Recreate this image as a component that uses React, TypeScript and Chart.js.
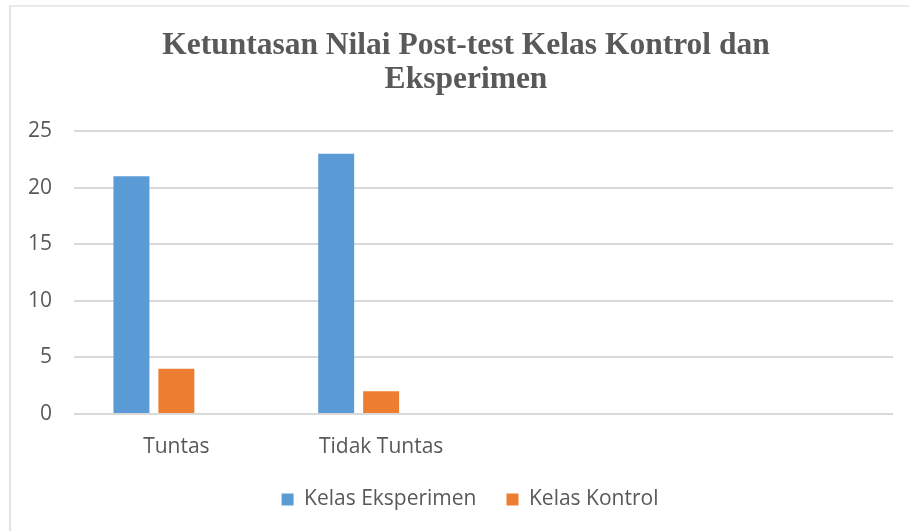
import React, { useEffect, useRef } from "react";
import { Chart, registerables } from "chart.js";

Chart.register(...registerables);

const chartTitle = ["Ketuntasan Nilai Post-test Kelas Kontrol dan", "Eksperimen"];
const categories = ["Tuntas", "Tidak Tuntas", "", ""];
const seriesNames = ["Kelas Eksperimen", "Kelas Kontrol", ""];
const kelasEksperimen = [21, 23];
const kelasKontrol = [4, 2];
const emptySeries: number[] = [];
const yMin = 0;
const yMax = 25;
const yStep = 5;

const TEXT = "#595959";
const GRID = "#d9d9d9";

// Excel centres the title and legend on the chart frame, which starts further right
const shiftBlocks = {
  id: "shiftBlocks",
  afterLayout(chart: any) {
    if (chart.titleBlock) chart.titleBlock.left += 39;
    if (chart.legend) chart.legend.left += 47;
  },
};

export default function App() {
  const ref = useRef<HTMLCanvasElement | null>(null);

  useEffect(() => {
    document.body.style.margin = "0";
    const canvas = ref.current;
    if (!canvas) return;
    const chart = new Chart(canvas, {
      type: "bar",
      data: {
        labels: categories,
        datasets: [
          { label: seriesNames[0], data: kelasEksperimen, backgroundColor: "#5B9BD5" },
          { label: seriesNames[1], data: kelasKontrol, backgroundColor: "#ED7D31" },
          { label: seriesNames[2], data: emptySeries, backgroundColor: "#A5A5A5" },
        ],
      },
      plugins: [shiftBlocks],
      options: {
        responsive: false,
        animation: false,
        devicePixelRatio: 1,
        datasets: { bar: { categoryPercentage: 0.6585, barPercentage: 0.8 } },
        layout: { padding: { left: 0, right: 16, top: 0, bottom: 11 } },
        plugins: {
          tooltip: { enabled: false },
          title: {
            display: true,
            text: chartTitle,
            color: TEXT,
            font: { family: "'Liberation Serif', serif", size: 31.5, weight: "bold", lineHeight: 1.08 },
            padding: { top: 29, bottom: 34 },
          },
          legend: {
            position: "bottom",
            labels: {
              filter: (item) => item.text !== "",
              color: TEXT,
              font: { family: "'Open Sans', sans-serif", size: 21 },
              boxWidth: 12,
              boxHeight: 12,
              padding: 30,
            },
          },
        },
        scales: {
          x: {
            grid: { display: false },
            border: { display: false },
            ticks: { color: TEXT, font: { family: "'Open Sans', sans-serif", size: 21 }, padding: 12 },
            afterFit: (scale: any) => {
              scale.height = 45;
            },
          },
          y: {
            min: yMin,
            max: yMax,
            grid: { color: GRID, lineWidth: 2, drawTicks: false },
            border: { display: false },
            ticks: {
              stepSize: yStep,
              color: TEXT,
              font: { family: "'Open Sans', sans-serif", size: 21 },
              padding: 22,
            },
            afterFit: (scale: any) => {
              scale.width = 74;
            },
          },
        },
      },
    });
    return () => chart.destroy();
  }, []);

  return (
    <div style={{ position: "relative", width: 909, height: 531, background: "#fff", overflow: "hidden" }}>
      <div
        style={{
          position: "absolute",
          left: 9,
          top: 5,
          width: 920,
          height: 540,
          borderLeft: "2px solid #e2e2e2",
          borderTop: "2px solid #e9e9e9",
        }}
      />
      <canvas ref={ref} width={909} height={531} style={{ position: "absolute", left: 0, top: 0 }} />
    </div>
  );
}
